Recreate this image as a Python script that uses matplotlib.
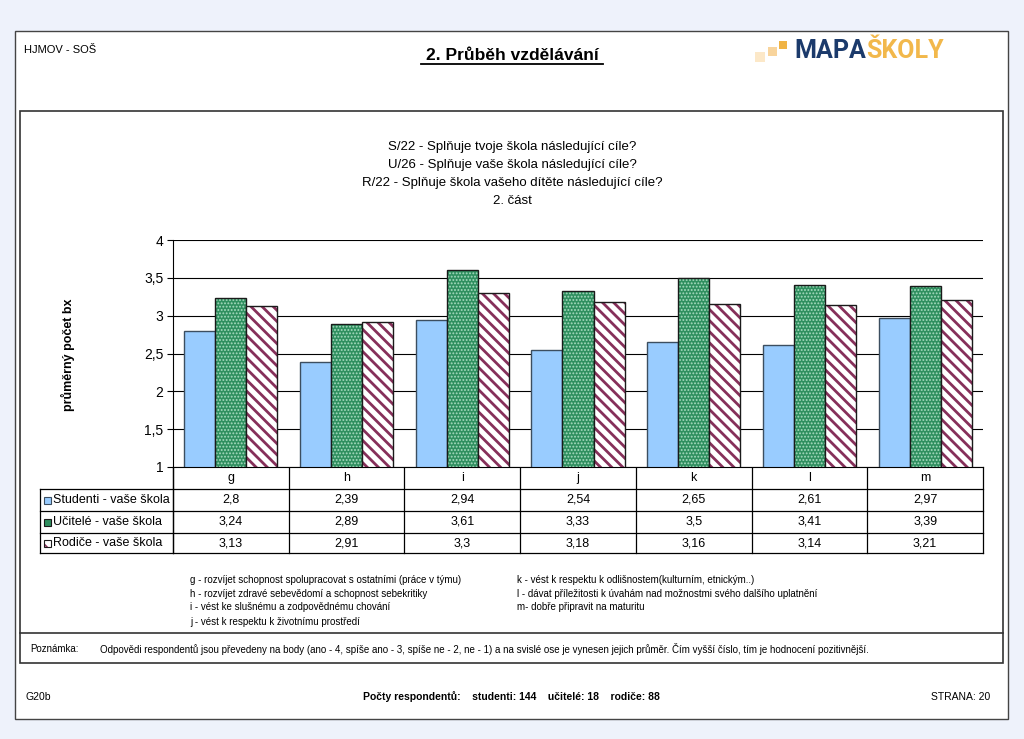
import matplotlib
matplotlib.use('Agg')
import matplotlib.pyplot as plt
import numpy as np
from matplotlib.patches import Rectangle
import matplotlib.transforms as mtransforms

plt.rcParams['font.family'] = ['Liberation Sans', 'DejaVu Sans']

categories = ['g', 'h', 'i', 'j', 'k', 'l', 'm']
series_names = ['Studenti - vaše škola', 'Učitelé - vaše škola', 'Rodiče - vaše škola']
studenti = [2.8, 2.39, 2.94, 2.54, 2.65, 2.61, 2.97]
ucitele = [3.24, 2.89, 3.61, 3.33, 3.5, 3.41, 3.39]
rodice = [3.13, 2.91, 3.3, 3.18, 3.16, 3.14, 3.21]
yticks = [1, 1.5, 2, 2.5, 3, 3.5, 4]
ytick_labels = ['1', '1,5', '2', '2,5', '3', '3,5', '4']

title_lines = ['S/22 - Splňuje tvoje škola následující cíle?',
               'U/26 - Splňuje vaše škola následující cíle?',
               'R/22 - Splňuje škola vašeho dítěte následující cíle?',
               '2. část']
notes_left = ['g - rozvíjet schopnost spolupracovat s ostatními (práce v týmu)',
              'h - rozvíjet zdravé sebevědomí a schopnost sebekritiky',
              'i - vést ke slušnému a zodpovědnému chování',
              'j - vést k respektu k životnímu prostředí']
notes_right = ['k - vést k respektu k odlišnostem(kulturním, etnickým..)',
               'l - dávat příležitosti k úvahám nad možnostmi svého dalšího uplatnění',
               'm- dobře připravit na maturitu']

W, H = 1024, 739
fig = plt.figure(figsize=(W / 100, H / 100), dpi=100)
fig.patch.set_facecolor('#EEF2FB')

bg = fig.add_axes([0, 0, 1, 1], zorder=0)
bg.set_xlim(0, W)
bg.set_ylim(H, 0)
bg.axis('off')

# page
bg.add_patch(Rectangle((16, 32), 993, 688, facecolor='#b0b0b0', edgecolor='none'))
bg.add_patch(Rectangle((15, 31), 993, 688, facecolor='white', edgecolor='#444444', lw=1))
bg.add_patch(Rectangle((19.5, 111), 983.5, 552, facecolor='white', edgecolor='#333333', lw=1.2))
bg.plot([19.5, 1003], [633, 633], color='#333333', lw=1.2)

# header
bg.text(24, 50, 'HJMOV - SOŠ', fontsize=8, ha='left', va='center')
bg.text(512, 55, '2. Průběh vzdělávání', fontsize=12.5, fontweight='bold', ha='center', va='center')
bg.plot([421, 603], [64, 64], color='black', lw=1.3)
# logo
bg.add_patch(Rectangle((755, 52), 10, 10, facecolor='#FCE8C8', edgecolor='none'))
bg.add_patch(Rectangle((768, 47), 9, 9, facecolor='#F8D49C', edgecolor='none'))
bg.add_patch(Rectangle((779, 41), 8, 8, facecolor='#F0B445', edgecolor='none'))
bg.text(866, 51, 'MAPA', fontsize=18, fontweight='bold', family='Roboto', color='#1B3A6B',
        ha='right', va='center')
bg.text(866, 51, 'ŠKOLY', fontsize=18, fontweight='bold', family='Roboto', color='#F2B84B',
        ha='left', va='center')

# chart titles
for i, line in enumerate(title_lines):
    bg.text(512, 147 + i * 18, line, fontsize=9.5, ha='center', va='center')

bg.text(68, 355, 'průměrný počet bx', fontsize=9, fontweight='bold', rotation=90,
        ha='center', va='center')

# main axes
L, R, T, B = 173, 983, 240, 467
ax = fig.add_axes([L / W, (H - B) / H, (R - L) / W, (B - T) / H], zorder=1)
ax.set_xlim(-0.5, len(categories) - 0.5)
ax.set_ylim(1, 4)
ax.set_yticks(yticks)
ax.set_yticklabels(ytick_labels, fontsize=10)
ax.set_xticks([])
ax.tick_params(axis='y', direction='out', length=4, width=0.8, pad=3)
for s in ['top', 'right']:
    ax.spines[s].set_visible(False)
ax.spines['left'].set_color('black')
ax.spines['bottom'].set_color('black')
ax.yaxis.grid(True, color='black', lw=0.8)
ax.set_axisbelow(True)

x = np.arange(len(categories))
w = 0.268
ax.bar(x - w, studenti, w, color='#99CCFF', edgecolor='#3C4E60', lw=1)
with plt.rc_context({'hatch.linewidth': 0.9}):
    ax.bar(x, ucitele, w, color='#2F8F5F', hatch='.....', edgecolor='#A8DCC0', lw=0)
ax.bar(x, ucitele, w, fill=False, edgecolor='#1a1a1a', lw=1)
with plt.rc_context({'hatch.linewidth': 2.0}):
    ax.bar(x + w, rodice, w, color='white', hatch='\\\\\\', edgecolor='#86305A', lw=0)
ax.bar(x + w, rodice, w, fill=False, edgecolor='#1a1a1a', lw=1)

# data table
trans = mtransforms.blended_transform_factory(ax.transData, bg.transData)
rows_y = [467, 489, 511, 533, 553]
for i in range(len(categories) + 1):
    bg.plot([i - 0.5, i - 0.5], [467, 553], color='black', lw=0.9, transform=trans)
for yy in rows_y[1:]:
    bg.plot([40, R], [yy, yy], color='black', lw=0.9)
bg.plot([40, 40], [489, 553], color='black', lw=0.9)
bg.plot([L, L], [467, 553], color='black', lw=0.9)
for i, c in enumerate(categories):
    bg.text(i, 478, c, fontsize=9, ha='center', va='center', transform=trans)
series = [studenti, ucitele, rodice]
for r, vals in enumerate(series):
    yc = (rows_y[r + 1] + rows_y[r + 2]) / 2
    for i, v in enumerate(vals):
        bg.text(i, yc, f'{v:g}'.replace('.', ','), fontsize=9, ha='center', va='center',
                transform=trans)
    bg.text(53, yc, series_names[r], fontsize=9, ha='left', va='center')

# legend keys
yk = [(489 + 511) / 2, (511 + 533) / 2, (533 + 553) / 2]
bg.add_patch(Rectangle((44, yk[0] - 3.5), 7, 7, facecolor='#99CCFF', edgecolor='#3C4E60', lw=0.8))
bg.add_patch(Rectangle((44, yk[1] - 3.5), 7, 7, facecolor='#2F8F5F', edgecolor='#1a1a1a', lw=0.8))
with plt.rc_context({'hatch.linewidth': 1.2}):
    bg.add_patch(Rectangle((44, yk[2] - 3.5), 7, 7, facecolor='white', edgecolor='#86305A',
                           hatch='\\\\\\', lw=0))
bg.add_patch(Rectangle((44, yk[2] - 3.5), 7, 7, fill=False, edgecolor='#1a1a1a', lw=0.8))

# notes
ly = [580, 594, 607, 622]
for i, s in enumerate(notes_left):
    bg.text(190, ly[i], s, fontsize=7, ha='left', va='center')
for i, s in enumerate(notes_right):
    bg.text(517, ly[i], s, fontsize=7, ha='left', va='center')

bg.text(30, 649, 'Poznámka:', fontsize=7, ha='left', va='center')
bg.text(100, 649, 'Odpovědi respondentů jsou převedeny na body (ano - 4, spíše ano - 3, spíše ne - 2, ne - 1) '
        'a na svislé ose je vynesen jejich průměr. Čím vyšší číslo, tím je hodnocení pozitivnější.',
        fontsize=7, ha='left', va='center')

# footer
bg.text(25, 697, 'G20b', fontsize=7.5, ha='left', va='center')
bg.text(511, 697, 'Počty respondentů:    studenti: 144    učitelé: 18    rodiče: 88',
        fontsize=7.5, fontweight='bold', ha='center', va='center')
bg.text(990, 697, 'STRANA: 20', fontsize=7.5, ha='right', va='center')

fig.savefig('out.png', dpi=100, facecolor=fig.get_facecolor())
